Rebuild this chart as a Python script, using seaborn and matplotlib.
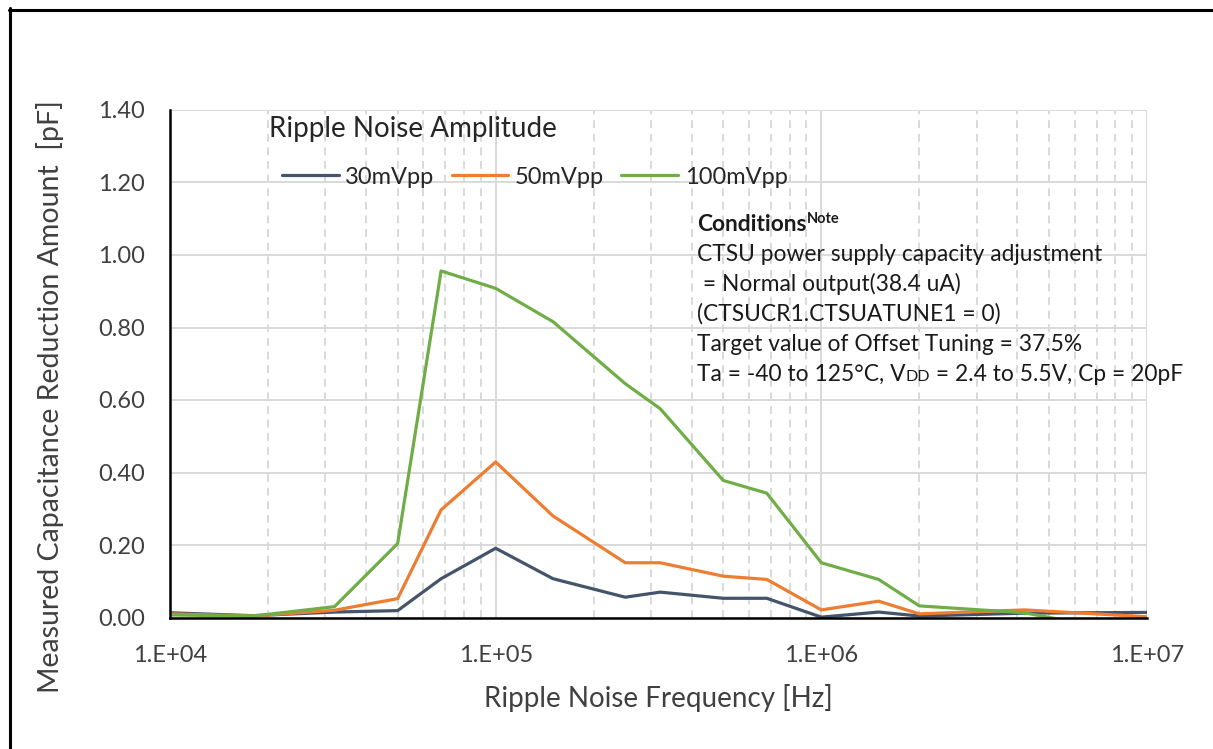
import numpy as np
import pandas as pd
import matplotlib
matplotlib.use('Agg')
import matplotlib.pyplot as plt
import seaborn as sns
from matplotlib.lines import Line2D
from matplotlib.ticker import FuncFormatter, LogLocator, MultipleLocator, NullFormatter

# ripple frequency [Hz] and measured capacitance reduction [pF]
freqs = [1e4, 1.8e4, 3.2e4, 5e4, 6.8e4, 1e5, 1.5e5, 2.5e5, 3.2e5, 5e5, 6.8e5,
         1e6, 1.5e6, 2e6, 4.2e6, 1e7]
ripple_30 = [0.013, 0.005, 0.015, 0.019, 0.107, 0.191, 0.107, 0.056, 0.070, 0.053, 0.053,
             0.001, 0.015, 0.004, 0.012, 0.014]
ripple_50 = [0.010, 0.004, 0.020, 0.052, 0.297, 0.429, 0.280, 0.151, 0.151, 0.114, 0.105,
             0.021, 0.045, 0.010, 0.021, 0.002]
ripple_100 = [0.007, 0.004, 0.030, 0.204, 0.956, 0.908, 0.816, 0.645, 0.576, 0.378, 0.343,
              0.151, 0.105, 0.032, 0.013, -0.050]
amplitudes = ['30mVpp', '50mVpp', '100mVpp']
colors = ['#44546A', '#ED7D31', '#70AD47']

df = pd.DataFrame({
    'freq': freqs * 3,
    'value': ripple_30 + ripple_50 + ripple_100,
    'amp': np.repeat(amplitudes, len(freqs)),
})

sns.set_style('white')
plt.rcParams['font.family'] = ['Lato', 'DejaVu Sans']

W, H = 1213, 749
fig = plt.figure(figsize=(W / 100, H / 100), dpi=100)
ax = fig.add_axes([170 / W, 1 - 617.5 / H, (1147 - 170) / W, (617.5 - 110) / H])

sns.lineplot(data=df, x='freq', y='value', hue='amp', hue_order=amplitudes,
             palette=colors, linewidth=2.3, estimator=None, sort=False,
             legend=False, ax=ax)

ax.set_xscale('log')
ax.set_xlim(1e4, 1e7)
ax.set_ylim(0, 1.4)
ax.xaxis.set_major_locator(LogLocator(base=10))
ax.xaxis.set_minor_locator(LogLocator(base=10, subs=np.arange(2, 10)))
ax.xaxis.set_major_formatter(FuncFormatter(lambda v, p: f'1.E+{int(round(np.log10(v))):02d}'))
ax.xaxis.set_minor_formatter(NullFormatter())
ax.yaxis.set_major_locator(MultipleLocator(0.2))
ax.yaxis.set_minor_locator(MultipleLocator(0.04))
ax.yaxis.set_major_formatter(FuncFormatter(lambda v, p: f'{v:.2f}'))

grid_c = '#d9d9d9'
ax.grid(which='major', axis='both', color=grid_c, linewidth=1.4, linestyle='-')
ax.grid(which='minor', axis='x', color=grid_c, linewidth=1.4, linestyle=(0, (4, 3)))
ax.set_axisbelow(True)

for s in ['top', 'right']:
    ax.spines[s].set_visible(False)
for s in ['left', 'bottom']:
    ax.spines[s].set_color('black')
    ax.spines[s].set_linewidth(1.8)

ax.tick_params(which='both', direction='in', length=5, width=1.4, color='black')
ax.tick_params(axis='x', which='major', pad=20, labelsize=17, labelcolor='#404040')
ax.tick_params(axis='y', which='major', pad=18, labelsize=17, labelcolor='#404040')

ax.set_xlabel('Ripple Noise Frequency [Hz]', fontsize=20, color='#404040')
ax.set_ylabel('Measured Capacitance Reduction Amount  [pF]', fontsize=20.5, color='#404040')
ax.xaxis.set_label_coords(0.5, (617.5 - 684) / 507.5)
ax.yaxis.set_label_coords((64 - 170) / 977, (617.5 - 397) / 507.5)

# legend
ax.text(269 / W, 1 - 137 / H, 'Ripple Noise Amplitude', transform=fig.transFigure,
        fontsize=20, color='#262626', va='baseline', ha='left')
handles = [Line2D([], [], color=c, linewidth=2.3) for c in colors]
ax.legend(handles, amplitudes, ncol=3, frameon=False, fontsize=17, labelcolor='#262626',
          loc='center left', bbox_to_anchor=(282 / W, 1 - 177 / H),
          bbox_transform=fig.transFigure, borderpad=0, borderaxespad=0,
          handlelength=2.4, handletextpad=0.28, columnspacing=0.73)

# conditions note
fig.canvas.draw()
renderer = fig.canvas.get_renderer()


def put_runs(runs, x_px, y_px):
    x = x_px
    for s, size, weight, dy in runs:
        t = fig.text(x / W, 1 - (y_px - dy) / H, s, fontsize=size, fontweight=weight,
                     color='#1a1a1a', va='baseline', ha='left')
        x = t.get_window_extent(renderer).x1


fs = 16.4
note_lines = [
    [('Conditions', fs, 'bold', 0), ('Note', 10.5, 'bold', 8)],
    [('CTSU power supply capacity adjustment', fs, 'normal', 0)],
    [(' = Normal output(38.4 uA)', fs, 'normal', 0)],
    [('(CTSUCR1.CTSUATUNE1 = 0)', fs, 'normal', 0)],
    [('Target value of Offset Tuning = 37.5%', fs, 'normal', 0)],
    [('Ta = -40 to 125°C, V', fs, 'normal', 0), ('DD', 11.5, 'normal', 0),
     (' = 2.4 to 5.5V, Cp = 20pF', fs, 'normal', 0)],
]
for i, runs in enumerate(note_lines):
    put_runs(runs, 697, 231 + 30 * i)

# outer frame (top and left edges)
fig.add_artist(Line2D([9 / W, 1], [1 - 9.5 / H, 1 - 9.5 / H], color='black', linewidth=2.2,
                      transform=fig.transFigure))
fig.add_artist(Line2D([9.5 / W, 9.5 / W], [0, 1 - 8 / H], color='black', linewidth=2.2,
                      transform=fig.transFigure))

fig.savefig('out.png', dpi=100)
